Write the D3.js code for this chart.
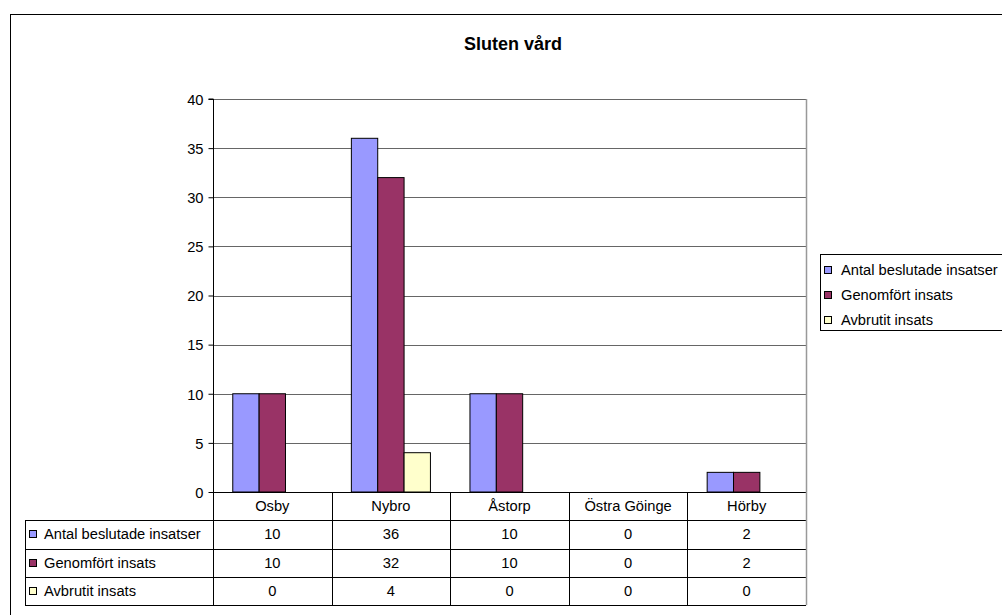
<!DOCTYPE html>
<html>
<head>
<meta charset="utf-8">
<script src="https://cdn.jsdelivr.net/npm/d3@7"></script>
<style>
  body { margin: 0; background: #fff; }
  svg { display: block; font-family: "Liberation Sans", Arial, sans-serif; }
</style>
</head>
<body>
<svg id="chart"></svg>
<script>
// data
const categories = ["Osby", "Nybro", "Åstorp", "Östra Göinge", "Hörby"];
const seriesNames = ["Antal beslutade insatser", "Genomfört insats", "Avbrutit insats"];
const antalBeslutade = [10, 36, 10, 0, 2];
const genomfort = [10, 32, 10, 0, 2];
const avbrutit = [0, 4, 0, 0, 0];
const yTicks = [0, 5, 10, 15, 20, 25, 30, 35, 40];
const colors = ["#9999FF", "#993366", "#FFFFCC"];

const seriesValues = [antalBeslutade, genomfort, avbrutit];

const W = 1002, H = 615;
const plot = { left: 213, right: 806, top: 99, bottom: 492 };
const rowH = 28.3;
const tableLeft = 25;
const fs = 14.7; // text size used all over

const svg = d3.select("#chart").attr("width", W).attr("height", H);

// outer chart frame (runs off the right and bottom edge)
svg.append("rect")
  .attr("x", 10.5).attr("y", 14.5)
  .attr("width", 1000).attr("height", 620)
  .attr("fill", "#fff").attr("stroke", "#000");

svg.append("text")
  .attr("x", 513).attr("y", 50)
  .attr("text-anchor", "middle")
  .attr("font-size", 18).attr("font-weight", "bold")
  .text("Sluten vård");

const y = d3.scaleLinear().domain([0, 40]).range([plot.bottom, plot.top]);
const x0 = d3.scaleBand().domain(categories).range([plot.left, plot.right]);
const x1 = d3.scaleBand().domain(seriesNames).range([0, x0.bandwidth()])
  .paddingInner(0).paddingOuter(0.75);

// gridlines
svg.append("g").selectAll("line")
  .data(yTicks.filter(t => t > 0))
  .enter().append("line")
  .attr("x1", plot.left).attr("x2", plot.right)
  .attr("y1", d => Math.round(y(d)) + 0.5).attr("y2", d => Math.round(y(d)) + 0.5)
  .attr("stroke", "#666");

// plot area right border
svg.append("line")
  .attr("x1", plot.right + 0.5).attr("x2", plot.right + 0.5)
  .attr("y1", plot.top).attr("y2", plot.bottom)
  .attr("stroke", "#999").attr("stroke-width", 1.5);

// bars
const groups = svg.append("g").selectAll("g")
  .data(categories)
  .enter().append("g")
  .attr("transform", d => `translate(${x0(d)},0)`);

groups.selectAll("rect")
  .data((c, ci) => seriesNames.map((s, si) => ({ s, si, v: seriesValues[si][ci] })))
  .enter().append("rect")
  .filter(d => d.v > 0)
  .attr("x", d => x1(d.s))
  .attr("y", d => y(d.v))
  .attr("width", x1.bandwidth())
  .attr("height", d => y(0) - y(d.v))
  .attr("fill", d => colors[d.si])
  .attr("stroke", "#000");

// y axis
const yAxis = svg.append("g")
  .attr("transform", `translate(${plot.left + 0.5},0)`)
  .call(d3.axisLeft(y).tickValues(yTicks).tickSize(5).tickPadding(5));
yAxis.selectAll("text")
  .attr("font-size", fs)
  .attr("font-family", "Liberation Sans, Arial, sans-serif")
  .attr("fill", "#000")
  .attr("dy", "0.36em");
yAxis.selectAll("path, line").attr("stroke", "#000");
yAxis.select(".domain").attr("d", `M-5,${plot.top}H0V${plot.bottom}`);

// data table
const table = svg.append("g").attr("font-size", fs).attr("fill", "#000");
const rowY = i => plot.bottom + rowH * i; // top of row i (row 0 = category names)
const tableBottom = rowY(4);

// horizontal lines
table.append("line")
  .attr("x1", plot.left).attr("x2", plot.right)
  .attr("y1", plot.bottom + 0.5).attr("y2", plot.bottom + 0.5)
  .attr("stroke", "#000");
[1, 2, 3, 4].forEach(i => {
  table.append("line")
    .attr("x1", tableLeft).attr("x2", plot.right)
    .attr("y1", Math.round(rowY(i)) + 0.5).attr("y2", Math.round(rowY(i)) + 0.5)
    .attr("stroke", "#000");
});

// vertical lines
const colEdges = categories.map(c => x0(c)).concat([plot.right]);
colEdges.forEach((cx, i) => {
  table.append("line")
    .attr("x1", Math.round(cx) + 0.5).attr("x2", Math.round(cx) + 0.5)
    .attr("y1", plot.bottom).attr("y2", tableBottom)
    .attr("stroke", i === colEdges.length - 1 ? "#999" : "#000")
    .attr("stroke-width", i === colEdges.length - 1 ? 1.5 : 1);
});
table.append("line")
  .attr("x1", tableLeft + 0.5).attr("x2", tableLeft + 0.5)
  .attr("y1", rowY(1)).attr("y2", tableBottom)
  .attr("stroke", "#000");

// category labels
table.selectAll(".cat")
  .data(categories)
  .enter().append("text")
  .attr("x", d => x0(d) + x0.bandwidth() / 2)
  .attr("y", rowY(0) + rowH / 2 + 5)
  .attr("text-anchor", "middle")
  .text(d => d);

// series rows
seriesNames.forEach((s, si) => {
  const ry = rowY(si + 1);
  table.append("rect")
    .attr("x", tableLeft + 4.5).attr("y", Math.round(ry + rowH / 2 - 4) + 0.5)
    .attr("width", 7).attr("height", 7)
    .attr("fill", colors[si]).attr("stroke", "#000");
  table.append("text")
    .attr("x", tableLeft + 19).attr("y", ry + rowH / 2 + 5)
    .text(s);
  table.selectAll(null)
    .data(seriesValues[si])
    .enter().append("text")
    .attr("x", (d, ci) => x0(categories[ci]) + x0.bandwidth() / 2)
    .attr("y", ry + rowH / 2 + 5)
    .attr("text-anchor", "middle")
    .text(d => d);
});

// legend on the right
const legend = svg.append("g").attr("font-size", fs);
legend.append("rect")
  .attr("x", 820.5).attr("y", 254.5)
  .attr("width", 200).attr("height", 76)
  .attr("fill", "#fff").attr("stroke", "#000");
seriesNames.forEach((s, si) => {
  const ly = 266 + si * 25;
  legend.append("rect")
    .attr("x", 824.5).attr("y", ly + 0.5)
    .attr("width", 7).attr("height", 7)
    .attr("fill", colors[si]).attr("stroke", "#000");
  legend.append("text")
    .attr("x", 841).attr("y", ly + 9)
    .text(s);
});
</script>
</body>
</html>
